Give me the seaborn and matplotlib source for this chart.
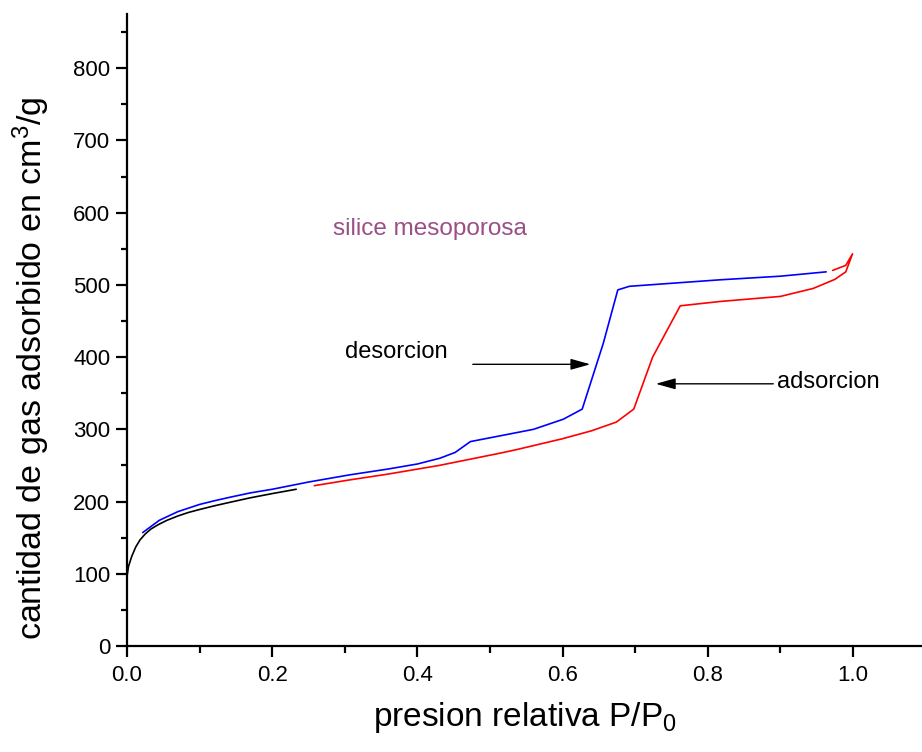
import matplotlib
matplotlib.use("Agg")
import matplotlib.pyplot as plt
import seaborn as sns
import pandas as pd

sns.set_theme(style="ticks")
plt.rcParams['font.family'] = ['Liberation Sans', 'DejaVu Sans']
plt.rcParams['mathtext.fontset'] = 'custom'
plt.rcParams['mathtext.rm'] = 'Liberation Sans'
plt.rcParams['mathtext.it'] = 'Liberation Sans'
plt.rcParams['text.color'] = 'black'
plt.rcParams['axes.labelcolor'] = 'black'

# black: low-pressure adsorption branch
black_x = [0.0, 0.002, 0.0065, 0.012, 0.018, 0.025, 0.033, 0.043, 0.055, 0.07, 0.085, 0.1,
           0.12, 0.142, 0.169, 0.2, 0.233]
black_y = [96, 110, 124, 137, 147, 155, 162, 168, 174, 180, 185, 189,
           194, 199, 205, 211, 217]

# blue: desorption branch
blue_x = [0.0216, 0.0445, 0.07, 0.1, 0.12, 0.142, 0.17, 0.2, 0.25, 0.307, 0.3595, 0.4, 0.431,
          0.452, 0.473, 0.514, 0.56, 0.601, 0.627, 0.656, 0.676, 0.692, 0.817, 0.9, 0.963]
blue_y = [157, 174, 186, 196, 201, 206, 212, 217, 227, 237, 245, 252, 260,
          268, 283, 291, 300, 314, 328, 419, 493, 498, 507, 512, 518]

# red: adsorption branch (up to saturation and back)
red_x = [0.258, 0.307, 0.3595, 0.43, 0.514, 0.537, 0.6, 0.64, 0.674, 0.698, 0.724, 0.762,
         0.817, 0.9, 0.945, 0.975, 0.990, 0.9993, 0.990, 0.972]
red_y = [222, 230, 238, 250, 267, 272, 287, 298, 310, 328, 400, 471,
         477, 484, 495, 507.6, 518, 543, 527, 520]

fig = plt.figure(figsize=(9.22, 7.52), dpi=100)
ax = fig.add_axes([127/922, 1-646/752, 1-127/922, (646-14)/752])

sns.lineplot(x=black_x, y=black_y, ax=ax, color="black", lw=1.2, sort=False, estimator=None)
sns.lineplot(x=blue_x, y=blue_y, ax=ax, color="#0000ff", lw=1.2, sort=False, estimator=None)
sns.lineplot(x=red_x, y=red_y, ax=ax, color="#ff0000", lw=1.2, sort=False, estimator=None)

ax.set_xlim(0, 1.095)
ax.set_ylim(0, 875)
ax.set_xticks([0.0, 0.2, 0.4, 0.6, 0.8, 1.0])
ax.set_xticks([0.1, 0.3, 0.5, 0.7, 0.9], minor=True)
ax.set_xticklabels(["0.0", "0.2", "0.4", "0.6", "0.8", "1.0"])
ax.set_yticks(range(0, 801, 100))
ax.set_yticks(range(50, 851, 100), minor=True)
ax.tick_params(axis='both', which='major', length=8, width=1.6, labelsize=16, color="black", labelcolor="black")
ax.tick_params(axis='x', which='minor', length=5, width=1.6, color="black")
ax.tick_params(axis='y', which='minor', length=4, width=1.6, color="black")
ax.tick_params(axis='x', pad=6)
ax.tick_params(axis='y', pad=4)
for s in ['top', 'right']:
    ax.spines[s].set_visible(False)
for s in ['left', 'bottom']:
    ax.spines[s].set_linewidth(1.6)
    ax.spines[s].set_color("black")

ax.set_xlabel("presion relativa P/P$_0$", fontsize=24, labelpad=10, color="black")
ax.set_ylabel("cantidad de gas adsorbido en cm$^3$/g", fontsize=24.5, color="black")
ax.yaxis.set_label_coords(-0.094, 0.44)

ax.text(0.284, 578, "silice mesoporosa", color="#9b4f87", fontsize=17.5, va="center", ha="left")
ax.text(0.300, 407, "desorcion", color="black", fontsize=17, va="center", ha="left")
ax.text(0.895, 366, "adsorcion", color="black", fontsize=17, va="center", ha="left")

ax.annotate("", xy=(0.642, 390), xytext=(0.4725, 390),
            arrowprops=dict(arrowstyle="-|>,head_length=1.0,head_width=0.28", color="black", lw=1.0))
ax.annotate("", xy=(0.7245, 363), xytext=(0.894, 363),
            arrowprops=dict(arrowstyle="-|>,head_length=1.0,head_width=0.28", color="black", lw=1.0))

fig.savefig("out.png", dpi=100)
